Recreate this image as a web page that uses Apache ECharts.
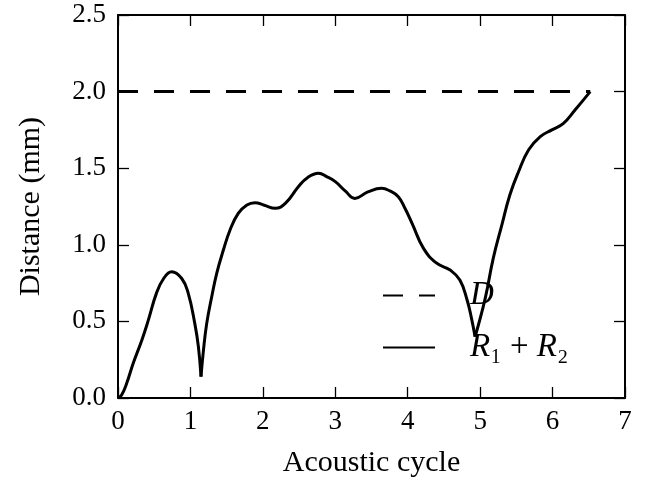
<!DOCTYPE html>
<html>
<head>
<meta charset="utf-8">
<script src="https://cdn.jsdelivr.net/npm/echarts@6/dist/echarts.min.js"></script>
<style>
  html, body { margin: 0; padding: 0; background: #fff; }
</style>
</head>
<body>
<div id="chart" style="width: 647px; height: 484px;"></div>
<script>
// values
const cycle = [0, 0.05, 0.12, 0.21, 0.33, 0.42, 0.53, 0.63, 0.74, 0.88, 0.97, 1.06, 1.11, 1.146,
  1.18, 1.225, 1.294, 1.363, 1.455, 1.547, 1.66, 1.78, 1.89, 2.02, 2.17, 2.31, 2.49, 2.62, 2.77,
  2.88, 3.00, 3.14, 3.27, 3.45, 3.64, 3.76, 3.87, 3.96, 4.06, 4.22, 4.40, 4.585, 4.72, 4.82, 4.885, 4.93,
  5.07, 5.18, 5.30, 5.41, 5.53, 5.67, 5.83, 5.99, 6.15, 6.31, 6.52];
const distance = [0, 0.02, 0.096, 0.227, 0.379, 0.51, 0.683, 0.78, 0.824, 0.78, 0.683, 0.487, 0.335, 0.139,
  0.313, 0.487, 0.661, 0.814, 0.966, 1.097, 1.205, 1.26, 1.275, 1.258, 1.238, 1.27, 1.379, 1.44, 1.467,
  1.445, 1.412, 1.35, 1.303, 1.345, 1.369, 1.35, 1.314, 1.24, 1.14, 0.975, 0.88, 0.835, 0.77, 0.64, 0.51, 0.40,
  0.65, 0.91, 1.13, 1.325, 1.477, 1.62, 1.706, 1.75, 1.793, 1.88, 2.0];
// cusps where the curve touches down (kept sharp)
const cusps = [1.146, 4.93];
const dCycle = [0, 6.52];
const dValue = [2.0, 2.0];
const xTicks = [0, 1, 2, 3, 4, 5, 6, 7];
const yTicks = ['0.0', '0.5', '1.0', '1.5', '2.0', '2.5'];

const font = '"Liberation Serif", "DejaVu Serif", serif';
const dData = dCycle.map((c, i) => [c, dValue[i]]);

// split the R1 + R2 curve at the cusps so smoothing doesn't round them
const segments = [[]];
cycle.forEach((c, i) => {
  segments[segments.length - 1].push([c, distance[i]]);
  if (cusps.includes(c)) segments.push([[c, distance[i]]]);
});

const axisCommon = {
  type: 'value',
  axisLine: { show: true, onZero: false, lineStyle: { color: '#000', width: 2 } },
  axisTick: { show: true, inside: true, length: 11, lineStyle: { color: '#000', width: 1.3 } },
  splitLine: { show: false }
};

const series = [
  {
    name: 'D',
    type: 'line',
    data: dData,
    symbol: 'none',
    lineStyle: { color: '#000', width: 3, type: [20, 16] },
    itemStyle: { color: '#000' }
  }
];
segments.forEach(seg => {
  series.push({
    name: 'R1 + R2',
    type: 'line',
    data: seg,
    symbol: 'none',
    smooth: 0.45,
    lineStyle: { color: '#000', width: 3 },
    itemStyle: { color: '#000' }
  });
});

const chart = echarts.init(document.getElementById('chart'));
chart.setOption({
  animation: false,
  backgroundColor: '#fff',
  grid: { left: 118, right: 22, top: 15, bottom: 86 },
  legend: {
    orient: 'vertical',
    left: 377,
    top: 274,
    itemWidth: 52,
    itemHeight: 14,
    itemGap: 19,
    data: ['D', 'R1 + R2'],
    itemStyle: { opacity: 0 },
    formatter: (name) => name === 'D' ? '{i|D}' : '{i|R}{n|₁ + }{i|R}{n|₂}',
    textStyle: {
      padding: [0, 0, 0, 30],
      rich: {
        i: { fontFamily: font, fontStyle: 'italic', fontSize: 33, color: '#000' },
        n: { fontFamily: font, fontSize: 33, color: '#000' }
      }
    }
  },
  xAxis: [
    Object.assign({}, axisCommon, {
      min: 0, max: 7, interval: 1, position: 'bottom',
      axisLabel: { color: '#000', fontFamily: font, fontSize: 27, margin: 10,
        formatter: (v) => xTicks.includes(v) ? String(v) : '' },
      name: 'Acoustic cycle', nameLocation: 'middle', nameGap: 50,
      nameTextStyle: { color: '#000', fontFamily: font, fontSize: 30 }
    }),
    Object.assign({}, axisCommon, {
      min: 0, max: 7, interval: 1, position: 'top',
      axisLabel: { show: false }
    })
  ],
  yAxis: [
    Object.assign({}, axisCommon, {
      min: 0, max: 2.5, interval: 0.5, position: 'left',
      axisLabel: { color: '#000', fontFamily: font, fontSize: 27, margin: 12,
        formatter: (v) => yTicks[Math.round(v / 0.5)] },
      name: 'Distance (mm)', nameLocation: 'middle', nameGap: 72,
      nameTextStyle: { color: '#000', fontFamily: font, fontSize: 30 }
    }),
    Object.assign({}, axisCommon, {
      min: 0, max: 2.5, interval: 0.5, position: 'right',
      axisLabel: { show: false }
    })
  ],
  series: series
});
</script>
</body>
</html>
